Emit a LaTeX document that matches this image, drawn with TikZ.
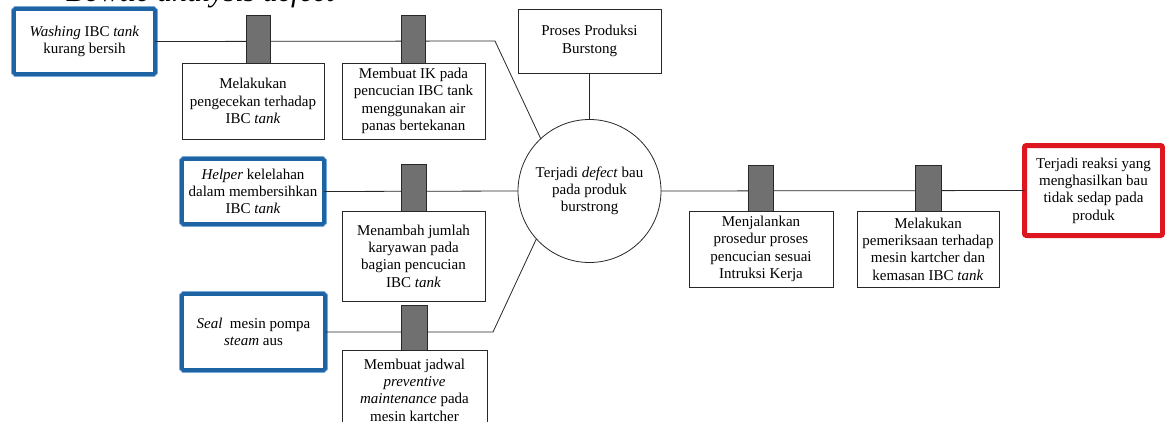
\documentclass[tikz,border=0pt]{standalone}
\usepackage{fontspec}
\setmainfont{Liberation Serif}
\definecolor{linec}{RGB}{40,40,40}
\definecolor{barc}{RGB}{112,112,112}
\definecolor{bluefr}{RGB}{30,100,165}
\definecolor{bluelt}{RGB}{120,170,215}
\definecolor{redfr}{RGB}{222,22,32}
\begin{document}
\begin{tikzpicture}[x=1pt,y=-1pt,
  font=\fontsize{15}{17.3}\selectfont,
  conn/.style={draw=linec, line width=0.8pt},
  box/.style={draw=linec, line width=0.8pt, fill=white, align=center, inner sep=0pt, outer sep=0pt},
  bar/.style={draw=linec, line width=0.8pt, fill=barc, inner sep=0pt, outer sep=0pt},
  cause/.style={draw=bluefr, line width=3.8pt, rounded corners=1.5pt, fill=white, align=center, inner sep=0pt, outer sep=0pt,
    preaction={draw=bluelt, line width=5.6pt, rounded corners=2pt}},
  effect/.style={draw=redfr, line width=5pt, rounded corners=2pt, fill=white, align=center, inner sep=0pt, outer sep=0pt},
  event/.style={circle, draw=linec, line width=0.8pt, fill=white, align=center, inner sep=0pt, outer sep=0pt, minimum size=143pt}
]
\useasboundingbox (0,0) rectangle (1165,421);
\clip (0,0) rectangle (1165,421);

% cut-off caption at the top
\node[anchor=base west, inner sep=0pt, font=\fontsize{30}{30}\selectfont\itshape] (cap) at (66,1) {Bowtie analysis defect};

% central event and top box
\node[event] (dft) at (589.5,191) {Terjadi \textit{defect} bau\\pada produk\\burstrong};
\node[box, minimum width=143pt, minimum height=64pt] (proses) at (589.5,41) {Proses Produksi\\Burstong};

% threats
\node[cause, minimum width=141pt, minimum height=65pt] (wash) at (84.5,41.5) {\textit{Washing} IBC \textit{tank}\\kurang bersih};
\node[cause, minimum width=142pt, minimum height=65pt] (help) at (253,191.5) {\textit{Helper} kelelahan\\dalam membersihkan\\IBC \textit{tank}};
\node[cause, minimum width=143pt, minimum height=76pt] (seal) at (253.5,332) {\textit{Seal}~ mesin pompa\\\textit{steam} aus};

% consequence
\node[effect, minimum width=138pt, minimum height=90pt] (red) at (1093.5,190.5) {Terjadi reaksi yang\\menghasilkan bau\\tidak sedap pada\\produk};

% connector corners
\coordinate (k1) at (495,41);
\coordinate (k3) at (493,332);

% connectors
\draw[conn] (wash.east) -- (k1) -- (dft.133);
\draw[conn] (help.east) -- (dft.west);
\draw[conn] (seal.east) -- (k3) -- (dft.222);
\draw[conn] (proses.south) -- (dft.north);
\draw[conn] (dft.east) -- (red.west);

% barrier boxes
\node[box, minimum width=142pt, minimum height=76pt] (m1) at (253,101) {Melakukan\\pengecekan terhadap\\IBC \textit{tank}};
\node[box, minimum width=143pt, minimum height=76pt] (m2) at (413.5,101) {Membuat IK pada\\pencucian IBC tank\\menggunakan air\\panas bertekanan};
\node[box, minimum width=143pt, minimum height=90pt] (m3) at (413.5,256) {Menambah jumlah\\karyawan pada\\bagian pencucian\\IBC \textit{tank}};
\node[box, minimum width=145pt, minimum height=80pt] (m4) at (414.5,390) {Membuat jadwal\\\textit{preventive}\\\textit{maintenance} pada\\mesin kartcher};
\node[box, minimum width=144pt, minimum height=76pt] (m5) at (761,249) {Menjalankan\\prosedur proses\\pencucian sesuai\\Intruksi Kerja};
\node[box, minimum width=142pt, minimum height=76pt] (m6) at (928,249) {Melakukan\\pemeriksaan terhadap\\mesin kartcher dan\\kemasan IBC \textit{tank}};

% barrier bars
\node[bar, minimum width=24pt, minimum height=48pt] (b1) at (258,39) {};
\node[bar, minimum width=24pt, minimum height=48pt] (b2) at (413,39) {};
\node[bar, minimum width=25pt, minimum height=47pt] (b3) at (413.5,187.5) {};
\node[bar, minimum width=26pt, minimum height=45pt] (b4) at (414,327.5) {};
\node[bar, minimum width=25pt, minimum height=46pt] (b5) at (760.5,188) {};
\node[bar, minimum width=26pt, minimum height=46pt] (b6) at (928,188) {};
\end{tikzpicture}
\end{document}
